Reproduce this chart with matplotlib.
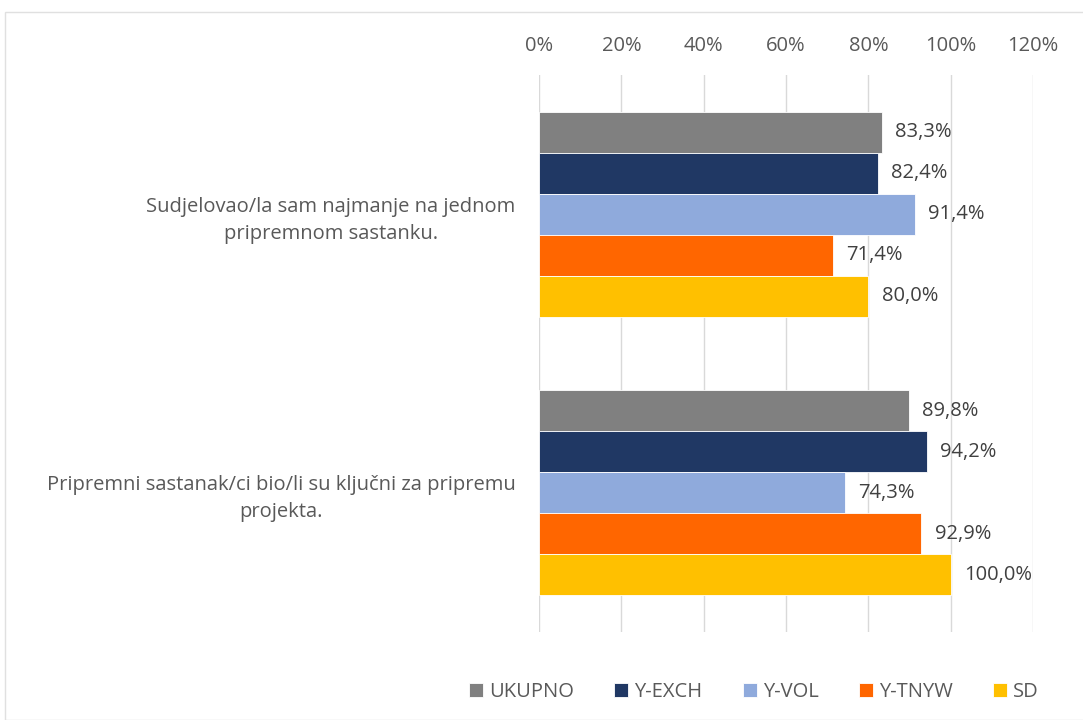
import matplotlib
matplotlib.use("Agg")
import matplotlib.pyplot as plt
import numpy as np
from matplotlib.patches import Rectangle

categories = ["Sudjelovao/la sam najmanje na jednom\npripremnom sastanku.",
              "Pripremni sastanak/ci bio/li su ključni za pripremu\nprojekta."]
series = ["UKUPNO", "Y-EXCH", "Y-VOL", "Y-TNYW", "SD"]
values = {
    "UKUPNO": [83.3, 89.8],
    "Y-EXCH": [82.4, 94.2],
    "Y-VOL": [91.4, 74.3],
    "Y-TNYW": [71.4, 92.9],
    "SD": [80.0, 100.0],
}
colors = ["#808080", "#203864", "#8FAADC", "#FF6600", "#FFC000"]
ticks = [0, 20, 40, 60, 80, 100, 120]

plt.rcParams['font.family'] = ['Open Sans', 'DejaVu Sans']
txt = "#595959"
fs = 14.5

fig = plt.figure(figsize=(10.83, 7.2), dpi=100)
ax = fig.add_axes([539/1083, 1-632/720, (1033-539)/1083, (632-75)/720])

# chart border
fig.patches.append(Rectangle((5/1083, 0.0), 1.0, 1-12/720, transform=fig.transFigure,
                             fill=False, edgecolor="#E0E0E0", linewidth=1.0))

n = len(series)
h = 0.147
y = np.arange(len(categories))
for i, s in enumerate(series):
    offs = (i - (n - 1) / 2) * h
    bars = ax.barh(y + offs, values[s], height=h, color=colors[i],
                   edgecolor="white", linewidth=0.6, label=s, zorder=3)
    for b, v in zip(bars, values[s]):
        ax.text(b.get_width() + 3.2, b.get_y() + b.get_height() / 2,
                f"{v:.1f}%".replace(".", ","), va="center", ha="left",
                fontsize=fs, color="#404040")

ax.set_xlim(0, 120)
ax.set_ylim(1.5, -0.5)
ax.set_xticks(ticks)
ax.set_xticklabels([f"{t}%" for t in ticks], fontsize=fs, color=txt)
ax.xaxis.tick_top()
ax.tick_params(axis="x", length=0, pad=14)
ax.set_yticks(y)
ax.set_yticklabels(categories, fontsize=fs, color=txt, multialignment="center",
                   linespacing=1.45)
ax.tick_params(axis="y", length=0, pad=17)
for sp in ax.spines.values():
    sp.set_visible(False)
ax.grid(axis="x", color="#D9D9D9", linewidth=1.0, zorder=0)
ax.set_axisbelow(True)

leg = fig.legend(loc="center", bbox_to_anchor=(754/1083, 1-692/720), ncol=5,
                 frameon=False, fontsize=fs, handlelength=0.7, handleheight=0.7,
                 handletextpad=0.3, columnspacing=2.0)
for t in leg.get_texts():
    t.set_color(txt)

fig.savefig("out.png", dpi=100)
